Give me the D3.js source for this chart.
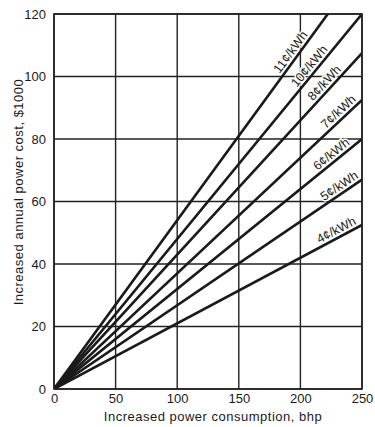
<!DOCTYPE html>
<html>
<head>
<meta charset="utf-8">
<script src="https://cdn.jsdelivr.net/npm/d3@7"></script>
<style>
  body { margin: 0; background: #fff; }
  text { font-family: "Liberation Sans", Arial, sans-serif; fill: #1a1a1a; }
</style>
</head>
<body>
<svg width="375" height="427"></svg>
<script>
// rates shown on the chart and annual cost ($1000) read at 250 bhp
const rates = ["11¢/kWh", "10¢/kWh", "8¢/kWh", "7¢/kWh", "6¢/kWh", "5¢/kWh", "4¢/kWh"];
const costAt250 = [135, 120, 107.5, 92.5, 80, 67, 52.5];
// bhp where each label sits along its line
const labelAt = [197, 212, 224, 235, 229, 235, 232];

const xTicks = [0, 50, 100, 150, 200, 250];
const yTicks = [0, 20, 40, 60, 80, 100, 120];

const svg = d3.select("svg");
const margin = { left: 54, top: 14, right: 13, bottom: 38 };
const width = 375 - margin.left - margin.right;
const height = 427 - margin.top - margin.bottom;

const x = d3.scaleLinear().domain([0, 250]).range([0, width]);
const y = d3.scaleLinear().domain([0, 120]).range([height, 0]);

const g = svg.append("g")
  .attr("transform", `translate(${margin.left},${margin.top})`);

// grid
g.append("g")
  .selectAll("line")
  .data(xTicks)
  .join("line")
  .attr("x1", d => x(d)).attr("x2", d => x(d))
  .attr("y1", 0).attr("y2", height)
  .attr("stroke", "#222").attr("stroke-width", 1.4);

g.append("g")
  .selectAll("line")
  .data(yTicks)
  .join("line")
  .attr("x1", 0).attr("x2", width)
  .attr("y1", d => y(d)).attr("y2", d => y(d))
  .attr("stroke", "#222").attr("stroke-width", 1.4);

// tick labels via d3 axes, no domain/tick lines
const xAxis = g.append("g")
  .attr("transform", `translate(0,${height})`)
  .call(d3.axisBottom(x).tickValues(xTicks).tickSize(0).tickPadding(5));
const yAxis = g.append("g")
  .call(d3.axisLeft(y).tickValues(yTicks).tickSize(0).tickPadding(8));
[xAxis, yAxis].forEach(a => {
  a.select(".domain").remove();
  a.selectAll("text")
    .style("font-family", "'Liberation Sans', Arial, sans-serif")
    .style("font-size", "13px")
    .attr("fill", "#1a1a1a");
});

// clip the lines to plot area
svg.append("clipPath").attr("id", "clip")
  .append("rect").attr("width", width).attr("height", height);

const series = rates.map((r, i) => ({
  rate: r,
  pts: [[0, 0], [250, costAt250[i]]],
  lx: labelAt[i],
  end: costAt250[i]
}));

const line = d3.line().x(d => x(d[0])).y(d => y(d[1]));

g.append("g")
  .attr("clip-path", "url(#clip)")
  .selectAll("path")
  .data(series)
  .join("path")
  .attr("d", d => line(d.pts))
  .attr("fill", "none")
  .attr("stroke", "#1a1a1a")
  .attr("stroke-width", 2.6);

// line labels, rotated along each line, white halo hides the grid
g.append("g")
  .selectAll("text")
  .data(series)
  .join("text")
  .attr("transform", d => {
    const px = x(d.lx);
    const py = y(d.end * d.lx / 250);
    const ang = Math.atan2(y(0) - y(d.end), x(250) - x(0)) * 180 / Math.PI;
    return `translate(${px},${py}) rotate(${-ang})`;
  })
  .attr("dy", -3.5)
  .attr("text-anchor", "middle")
  .style("font-size", "12.5px")
  .style("stroke", "#fff")
  .style("stroke-width", 3)
  .style("paint-order", "stroke")
  .text(d => d.rate);

// frame
g.append("rect")
  .attr("width", width).attr("height", height)
  .attr("fill", "none").attr("stroke", "#222").attr("stroke-width", 1.6);

// titles
svg.append("text")
  .attr("x", 213)
  .attr("y", 421)
  .attr("text-anchor", "middle")
  .style("font-size", "13px")
  .style("letter-spacing", "0.5px")
  .text("Increased power consumption, bhp");

svg.append("text")
  .attr("transform", `translate(23,192) rotate(-90)`)
  .attr("text-anchor", "middle")
  .style("font-size", "13px")
  .style("letter-spacing", "0.5px")
  .text("Increased annual power cost, $1000");
</script>
</body>
</html>
